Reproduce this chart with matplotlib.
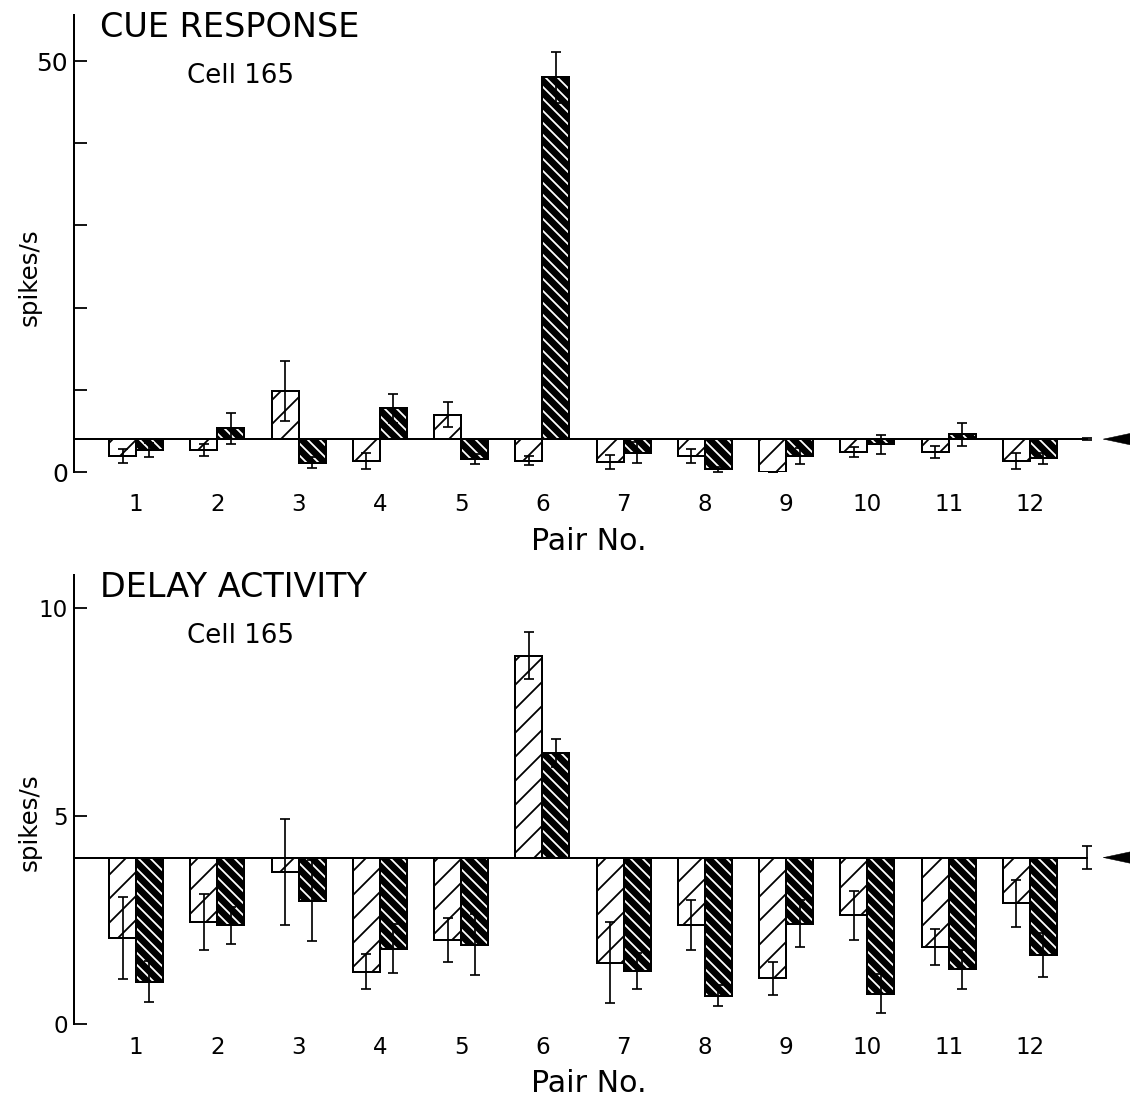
import matplotlib
matplotlib.use('Agg')
import matplotlib.pyplot as plt
import numpy as np

# ---------------- data ----------------
pairs = np.arange(1, 13)
pair_labels = [str(i) for i in pairs]

# CUE RESPONSE (spikes/s)
cue_light = [1.95, 2.68, 9.9, 1.38, 6.97, 1.38, 1.26, 1.95, 0.04, 2.43, 2.43, 1.34]
cue_light_err = [0.89, 0.77, 3.65, 0.97, 1.5, 0.57, 0.85, 0.9, 0.0, 0.65, 0.7, 1.0]
cue_dark = [2.68, 5.31, 1.14, 7.75, 1.58, 48.0, 2.35, 0.36, 1.95, 3.4, 4.62, 1.66]
cue_dark_err = [0.8, 1.87, 0.7, 1.8, 0.57, 3.1, 1.26, 0.3, 1.0, 1.15, 1.4, 0.7]
cue_base = 4.0
cue_base_err = 0.15

# DELAY ACTIVITY (spikes/s)
delay_light = [2.07, 2.45, 3.65, 1.26, 2.01, 8.85, 1.47, 2.37, 1.1, 2.61, 1.85, 2.9]
delay_light_err = [0.99, 0.68, 1.27, 0.42, 0.53, 0.56, 0.97, 0.6, 0.4, 0.58, 0.44, 0.57]
delay_dark = [1.02, 2.37, 2.96, 1.81, 1.91, 6.52, 1.27, 0.68, 2.41, 0.73, 1.31, 1.65]
delay_dark_err = [0.5, 0.44, 0.97, 0.59, 0.73, 0.34, 0.43, 0.25, 0.56, 0.46, 0.47, 0.53]
delay_base = 4.0
delay_base_err = 0.28

cue_yticks = [0, 10, 20, 30, 40, 50]
cue_yticklabels = ['0', '', '', '', '', '50']
delay_yticks = [0, 5, 10]
delay_yticklabels = ['0', '5', '10']

# ---------------- style ----------------
plt.rcParams['font.family'] = ['DejaVu Sans']
plt.rcParams['hatch.linewidth'] = 1.8

DPI = 72
W, H = 1130, 1100
fig = plt.figure(figsize=(W / DPI, H / DPI), dpi=DPI)

XLIM = (0.237, 13.231)
BAR_W = 0.332
BASE_X = 12.7


def panel(ax, light, light_err, dark, dark_err, base, base_err,
          ylim, yticks, yticklabels, ylabelsize, xpad):
    light = np.asarray(light)
    dark = np.asarray(dark)
    xl = pairs - BAR_W / 2
    xd = pairs + BAR_W / 2
    ax.bar(xl, light - base, bottom=base, width=BAR_W, facecolor='white',
           edgecolor='black', hatch='/', linewidth=2.0, zorder=2)
    ax.bar(xd, dark - base, bottom=base, width=BAR_W, facecolor='black',
           edgecolor='white', hatch='\\\\', linewidth=0, zorder=2)
    ax.bar(xd, dark - base, bottom=base, width=BAR_W, facecolor='none',
           edgecolor='black', linewidth=2.0, zorder=3)
    ekw = dict(fmt='none', ecolor='black', elinewidth=1.7, capsize=5,
               capthick=1.7, zorder=4)
    ax.errorbar(xl, light, yerr=light_err, **ekw)
    ax.errorbar(xd, dark, yerr=dark_err, **ekw)
    # baseline
    ax.plot([XLIM[0], BASE_X], [base, base], color='black', lw=2.0, zorder=5)
    ax.errorbar([BASE_X], [base], yerr=[base_err], **ekw)
    ax.annotate('', xy=(BASE_X + 0.19, base), xytext=(13.7, base),
                arrowprops=dict(arrowstyle='-|>,head_length=1.5,head_width=0.32',
                                mutation_scale=20, facecolor='black',
                                edgecolor='black', lw=0.5, shrinkA=0, shrinkB=0),
                annotation_clip=False)
    ax.set_xlim(*XLIM)
    ax.set_ylim(*ylim)
    ax.set_xticks(pairs, pair_labels)
    ax.set_yticks(yticks, yticklabels)
    ax.tick_params(axis='x', length=0, pad=xpad, labelsize=23)
    ax.tick_params(axis='y', direction='in', length=13, width=1.8, pad=6,
                   labelsize=ylabelsize)
    for s in ['top', 'right', 'bottom']:
        ax.spines[s].set_visible(False)
    ax.spines['left'].set_linewidth(2.0)
    ax.set_facecolor('none')


ax1 = fig.add_axes([74 / W, 1 - 472 / H, 1 - 74 / W, 457 / H])
panel(ax1, cue_light, cue_light_err, cue_dark, cue_dark_err, cue_base,
      cue_base_err, (0, 55.6), cue_yticks, cue_yticklabels, 25, 21)

ax2 = fig.add_axes([74 / W, 1 - 1024 / H, 1 - 74 / W, 449 / H])
panel(ax2, delay_light, delay_light_err, delay_dark, delay_dark_err, delay_base,
      delay_base_err, (0, 10.79), delay_yticks, delay_yticklabels, 23, 12)

# texts
fig.text(100 / W, 1 - 37 / H, 'CUE RESPONSE', fontsize=33.5, va='baseline', ha='left')
fig.text(187 / W, 1 - 83 / H, 'Cell 165', fontsize=26, va='baseline', ha='left')
fig.text(100 / W, 1 - 597 / H, 'DELAY ACTIVITY', fontsize=33.5, va='baseline', ha='left')
fig.text(187 / W, 1 - 643 / H, 'Cell 165', fontsize=26, va='baseline', ha='left')

fig.text(589 / W, 1 - 541 / H, 'Pair No.', fontsize=30, va='center', ha='center')
fig.text(589 / W, 1 - 1084 / H, 'Pair No.', fontsize=30, va='center', ha='center')

fig.text(30 / W, 1 - 277 / H, 'spikes/s', fontsize=24.5, rotation=90,
         va='center', ha='center')
fig.text(30 / W, 1 - 822 / H, 'spikes/s', fontsize=24.5, rotation=90,
         va='center', ha='center')

fig.savefig('out.png', dpi=DPI, facecolor='white')
